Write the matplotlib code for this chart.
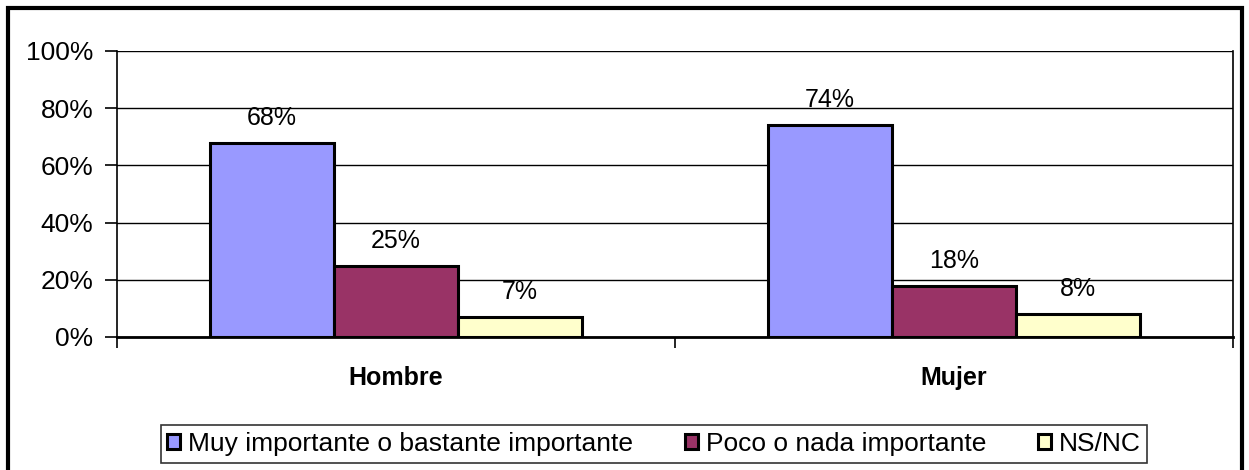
import matplotlib
matplotlib.use("Agg")
import matplotlib.pyplot as plt
import numpy as np
from matplotlib.patches import Rectangle

categories = ["Hombre", "Mujer"]
series_names = ["Muy importante o bastante importante", "Poco o nada importante", "NS/NC"]
values = [[68, 74], [25, 18], [7, 8]]
colors = ["#9999FF", "#993366", "#FFFFCC"]
yticks = [0, 20, 40, 60, 80, 100]

plt.rcParams['font.family'] = ['Liberation Sans', 'DejaVu Sans']

fig = plt.figure(figsize=(12.49, 4.70), dpi=100)
ax = fig.add_axes([117/1249, 1-337/470, (1233-117)/1249, (337-51)/470])

# outer frame
fig.patches.append(Rectangle((8/1249, -0.05), (1242-8)/1249, 1.05 - 8/470,
                             transform=fig.transFigure, fill=False, lw=3, ec='black'))

n = len(series_names)
bw = 0.668 / n
x = np.arange(len(categories))
for i in range(n):
    pos = x - 0.334 + bw * (i + 0.5)
    ax.bar(pos, values[i], width=bw, color=colors[i], edgecolor='black', lw=2.2,
           label=series_names[i], zorder=3)
    for xp, v in zip(pos, values[i]):
        ax.text(xp, v + 4.5, f"{v}%", ha='center', va='bottom', fontsize=18)

ax.set_xlim(-0.5, len(categories) - 0.5)
ax.set_ylim(0, 100)
ax.set_yticks(yticks)
ax.set_yticklabels([f"{t}%" for t in yticks], fontsize=19)
ax.yaxis.grid(True, color='black', lw=1.0, zorder=0)
ax.set_xticks(x)
ax.set_xticklabels(categories, fontsize=18, fontweight='bold')
ax.tick_params(axis='x', length=0, pad=21)
ax.set_xticks([-0.5, 0.5, 1.5], minor=True)
ax.tick_params(axis='x', which='minor', length=8, width=1.2, direction='out')
ax.tick_params(axis='y', length=9, width=1.2, direction='out', pad=8)
ax.spines['top'].set_visible(False)
ax.spines['left'].set_linewidth(1.2)
ax.spines['right'].set_linewidth(1.2)
ax.spines['bottom'].set_linewidth(2)

leg = fig.legend(loc='center', bbox_to_anchor=(654/1249, 1-444/470), ncol=3,
                 fontsize=19, frameon=True, fancybox=False, edgecolor='black',
                 handlelength=0.5, handleheight=0.5, handletextpad=0.3, columnspacing=1.95,
                 borderpad=0.25)
leg.get_frame().set_linewidth(1.2)

fig.savefig("out.png", dpi=100)
